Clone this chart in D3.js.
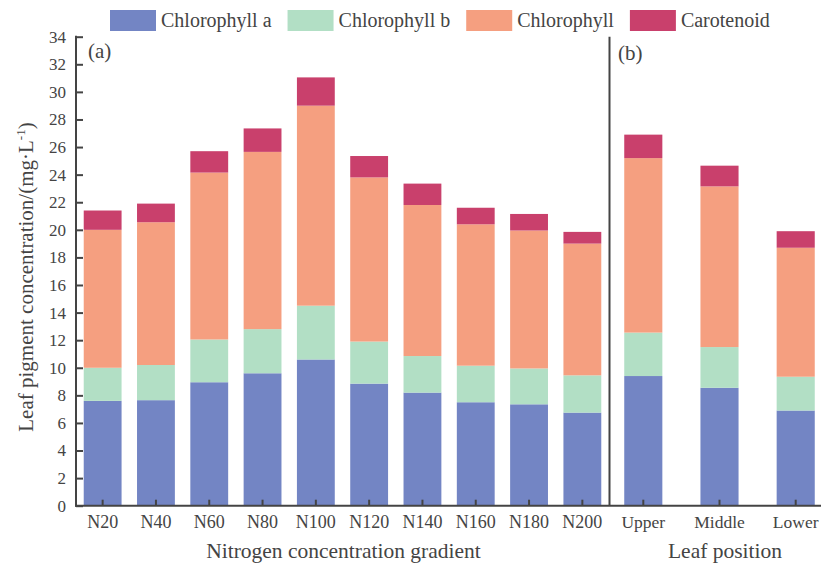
<!DOCTYPE html>
<html>
<head>
<meta charset="utf-8">
<script src="https://cdn.jsdelivr.net/npm/d3@7"></script>
<style>
  body { margin: 0; background: #fff; }
  svg text { font-family: "Liberation Serif", "Times New Roman", serif; fill: #444; }
</style>
</head>
<body>
<div id="chart"></div>
<script>
// Leaf pigment stacks: panel (a) nitrogen gradient, panel (b) leaf position.
var seriesKeys = ["Chlorophyll a", "Chlorophyll b", "Chlorophyll", "Carotenoid"];
var seriesColors = ["#7385c4", "#b2dfc5", "#f59f80", "#c9406c"];

var nitrogenLevels = ["N20", "N40", "N60", "N80", "N100", "N120", "N140", "N160", "N180", "N200"];
var nitroChlA = [7.6, 7.65, 8.95, 9.6, 10.6, 8.85, 8.2, 7.5, 7.35, 6.75];
var nitroChlB = [2.4, 2.55, 3.1, 3.2, 3.9, 3.05, 2.65, 2.65, 2.6, 2.7];
var nitroChl = [10.0, 10.35, 12.1, 12.85, 14.5, 11.9, 10.95, 10.25, 10.0, 9.55];
var nitroCar = [1.4, 1.35, 1.55, 1.7, 2.05, 1.55, 1.55, 1.2, 1.2, 0.85];

var leafPositions = ["Upper", "Middle", "Lower"];
var leafChlA = [9.4, 8.55, 6.9];
var leafChlB = [3.15, 2.95, 2.45];
var leafChl = [12.65, 11.65, 9.35];
var leafCar = [1.7, 1.5, 1.2];

var yTicks = [0, 2, 4, 6, 8, 10, 12, 14, 16, 18, 20, 22, 24, 26, 28, 30, 32, 34];

function rows(cats, a, b, c, d) {
  return cats.map(function (k, i) {
    var r = { cat: k };
    r[seriesKeys[0]] = a[i]; r[seriesKeys[1]] = b[i];
    r[seriesKeys[2]] = c[i]; r[seriesKeys[3]] = d[i];
    return r;
  });
}

var width = 821, height = 566;
var axisColor = "#444";
var svg = d3.select("#chart").append("svg")
  .attr("width", width).attr("height", height);

var y = d3.scaleLinear().domain([0, 34]).range([505.7, 36.7]);

var xa = d3.scaleBand().domain(nitrogenLevels).range([76, 609])
  .paddingInner(0.29).paddingOuter(0.145);
var xb = d3.scaleBand().domain(leafPositions).range([609, 830])
  .paddingInner(0.5).paddingOuter(0.2);

var stack = d3.stack().keys(seriesKeys);
var color = d3.scaleOrdinal().domain(seriesKeys).range(seriesColors);

function drawPanel(data, x) {
  var layers = stack(data);
  svg.append("g").selectAll("g").data(layers).enter().append("g")
    .attr("fill", function (d) { return color(d.key); })
    .selectAll("rect").data(function (d) { return d; }).enter().append("rect")
    .attr("x", function (d) { return x(d.data.cat); })
    .attr("width", x.bandwidth())
    .attr("y", function (d) { return y(d[1]); })
    .attr("height", function (d) { return y(d[0]) - y(d[1]); });

  var ax = svg.append("g")
    .attr("transform", "translate(0," + y(0) + ")")
    .call(d3.axisBottom(x).tickSizeInner(-6).tickSizeOuter(0).tickPadding(9.5));
  ax.select(".domain").remove();
  ax.selectAll("line").attr("stroke", axisColor).attr("stroke-width", 2);
  return ax;
}

var axA = drawPanel(rows(nitrogenLevels, nitroChlA, nitroChlB, nitroChl, nitroCar), xa);
axA.selectAll("text").attr("font-size", 18).attr("fill", axisColor);
var axB = drawPanel(rows(leafPositions, leafChlA, leafChlB, leafChl, leafCar), xb);
axB.selectAll("text").attr("font-size", 17.5).attr("fill", axisColor);

// y axis, ticks pointing inward
var yAx = svg.append("g").attr("transform", "translate(76,0)")
  .call(d3.axisLeft(y).tickValues(yTicks).tickSizeInner(-7).tickSizeOuter(0).tickPadding(10));
yAx.select(".domain").remove();
yAx.selectAll("line").attr("stroke", axisColor).attr("stroke-width", 2);
yAx.selectAll("text").attr("font-size", 17).attr("fill", axisColor);

// axis lines and panel divider
svg.append("line").attr("x1", 76).attr("x2", 76).attr("y1", y(0) + 1).attr("y2", y(34) - 1)
  .attr("stroke", axisColor).attr("stroke-width", 2);
svg.append("line").attr("x1", 75).attr("x2", width).attr("y1", y(0)).attr("y2", y(0))
  .attr("stroke", axisColor).attr("stroke-width", 2);
svg.append("line").attr("x1", 609.5).attr("x2", 609.5).attr("y1", y(0)).attr("y2", y(34))
  .attr("stroke", axisColor).attr("stroke-width", 2);

// panel tags
svg.append("text").attr("x", 88).attr("y", 58).attr("font-size", 21).text("(a)");
svg.append("text").attr("x", 618).attr("y", 60).attr("font-size", 21).text("(b)");

// axis titles
svg.append("text").attr("x", (xa.range()[0] + xa.range()[1]) / 2 + 1).attr("y", 558)
  .attr("text-anchor", "middle").attr("font-size", 21.5)
  .text("Nitrogen concentration gradient");
svg.append("text").attr("x", 725).attr("y", 558)
  .attr("text-anchor", "middle").attr("font-size", 21.5)
  .text("Leaf position");

var yTitle = svg.append("text")
  .attr("transform", "translate(33,277) rotate(-90)")
  .attr("text-anchor", "middle").attr("font-size", 21);
yTitle.append("tspan").text("Leaf pigment concentration/(mg\u00b7L");
yTitle.append("tspan").attr("dy", -8).attr("font-size", 13).text("-1");
yTitle.append("tspan").attr("dy", 8).text(")");

// legend, laid out left to right
var lx = 110;
seriesKeys.forEach(function (k) {
  svg.append("rect").attr("x", lx).attr("y", 10).attr("width", 46).attr("height", 21)
    .attr("fill", color(k));
  var t = svg.append("text").attr("x", lx + 51).attr("y", 27)
    .attr("font-size", 20).text(k);
  lx += 51 + t.node().getComputedTextLength() + 16;
});
</script>
</body>
</html>
